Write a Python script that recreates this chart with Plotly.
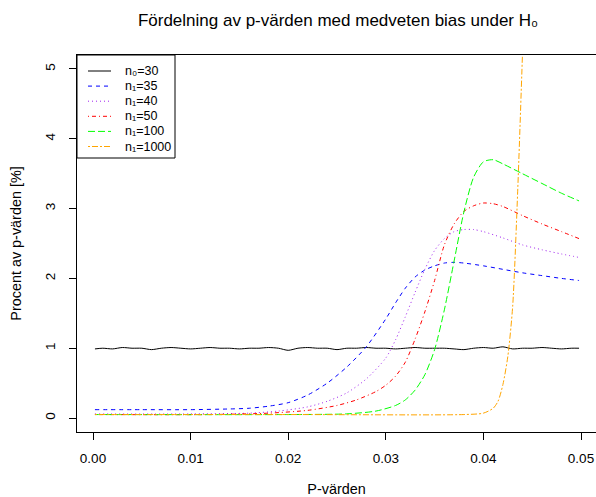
import plotly.graph_objects as go

# ---------------- data ----------------
title_text = "Fördelning av p-värden med medveten bias under H₀"
x_title = "P-värden"
y_title = "Procent av p-värden [%]"

x_ticks = [0.00, 0.01, 0.02, 0.03, 0.04, 0.05]
y_ticks = [0, 1, 2, 3, 4, 5]

labels = ["n₀=30", "n₁=35", "n₁=40", "n₁=50", "n₁=100", "n₁=1000"]

p_n0_30 = [0.0002, 0.001, 0.002, 0.003, 0.004, 0.005, 0.006, 0.007, 0.008, 0.009,
           0.010, 0.011, 0.012, 0.013, 0.014, 0.015, 0.016, 0.017, 0.018, 0.019,
           0.020, 0.021, 0.022, 0.023, 0.024, 0.025, 0.026, 0.027, 0.028, 0.029,
           0.030, 0.031, 0.032, 0.033, 0.034, 0.035, 0.036, 0.037, 0.038, 0.039,
           0.040, 0.041, 0.042, 0.043, 0.044, 0.045, 0.046, 0.047, 0.048, 0.049,
           0.0498]
v_n0_30 = [0.99, 1.00, 0.99, 1.01, 1.00, 1.00, 0.98, 1.00, 1.01, 1.00,
           0.99, 1.00, 1.01, 1.00, 1.00, 0.99, 1.00, 1.00, 1.01, 1.00,
           0.97, 1.00, 1.01, 1.00, 1.00, 0.98, 1.00, 1.00, 1.01, 1.00,
           1.00, 0.99, 1.00, 1.01, 1.00, 1.00, 1.00, 0.99, 0.98, 1.00,
           1.01, 1.00, 1.02, 0.99, 1.00, 1.00, 1.01, 1.00, 0.99, 1.00,
           1.00]

p_n1_35 = [0.0002, 0.005, 0.010, 0.014, 0.016, 0.018, 0.020, 0.022, 0.024, 0.026,
           0.028, 0.030, 0.031, 0.032, 0.033, 0.034, 0.035, 0.036, 0.037, 0.038,
           0.040, 0.042, 0.044, 0.046, 0.048, 0.0498]
v_n1_35 = [0.12, 0.12, 0.12, 0.13, 0.14, 0.17, 0.22, 0.33, 0.50, 0.73,
           1.02, 1.42, 1.65, 1.86, 2.02, 2.12, 2.18, 2.22, 2.23, 2.22,
           2.18, 2.13, 2.08, 2.04, 2.00, 1.97]

p_n1_40 = [0.0002, 0.010, 0.016, 0.019, 0.022, 0.024, 0.026, 0.028, 0.030, 0.031,
           0.032, 0.033, 0.034, 0.035, 0.036, 0.037, 0.038, 0.039, 0.040, 0.042,
           0.044, 0.046, 0.048, 0.0498]
v_n1_40 = [0.06, 0.06, 0.07, 0.10, 0.16, 0.24, 0.36, 0.56, 0.86, 1.12,
           1.45, 1.80, 2.13, 2.40, 2.57, 2.67, 2.70, 2.70, 2.67, 2.58,
           2.48, 2.41, 2.35, 2.30]

p_n1_50 = [0.0002, 0.012, 0.018, 0.022, 0.025, 0.027, 0.029, 0.030, 0.031, 0.032,
           0.033, 0.034, 0.035, 0.036, 0.037, 0.038, 0.039, 0.040, 0.041, 0.042,
           0.044, 0.046, 0.048, 0.0498]
v_n1_50 = [0.05, 0.05, 0.07, 0.11, 0.18, 0.26, 0.38, 0.47, 0.60, 0.80,
           1.13, 1.52, 1.97, 2.48, 2.78, 2.96, 3.04, 3.08, 3.07, 3.03,
           2.90, 2.78, 2.67, 2.57]

p_n1_100 = [0.0002, 0.020, 0.026, 0.029, 0.031, 0.032, 0.033, 0.034, 0.035, 0.036,
            0.037, 0.038, 0.039, 0.040, 0.041, 0.042, 0.044, 0.046, 0.048, 0.0498]
v_n1_100 = [0.05, 0.05, 0.06, 0.10, 0.18, 0.26, 0.40, 0.62, 0.98, 1.55,
            2.25, 2.95, 3.45, 3.67, 3.70, 3.64, 3.50, 3.36, 3.22, 3.11]

p_n1_1000 = [0.0002, 0.020, 0.038, 0.040, 0.041, 0.0415, 0.042, 0.0425, 0.043, 0.0435,
             0.044, 0.0445, 0.045]
v_n1_1000 = [0.05, 0.05, 0.05, 0.07, 0.14, 0.24, 0.48, 0.88, 1.60, 3.20,
             5.20, 7.40, 10.0]

series_x = [p_n0_30, p_n1_35, p_n1_40, p_n1_50, p_n1_100, p_n1_1000]
series_y = [v_n0_30, v_n1_35, v_n1_40, v_n1_50, v_n1_100, v_n1_1000]

# ---------------- styles ----------------
colors = ["#000000", "#0000FF", "#A020F0", "#FF0000", "#00FF00", "#FFA500"]
dashes = ["solid", "4px,4px", "1px,3px", "1px,3px,4px,3px", "7px,3px", "2px,2px,6px,2px"]
FONT = "Liberation Sans, Arial, sans-serif"

W, H = 596, 497
L, T, B = 77, 55, 65
R = 0
plot_w = W - L - R
plot_h = H - T - B

fig = go.Figure()
for xs, ys, name, c, d in zip(series_x, series_y, labels, colors, dashes):
    fig.add_trace(go.Scatter(
        x=xs, y=ys, mode="lines", name=name, showlegend=False,
        line=dict(color=c, width=1, dash=d, shape="spline", smoothing=0.7),
    ))

# x range: 0.00 at 16px from left edge, 9760 px per unit
px_per_x = 9760.0
x0 = -16.0 / px_per_x
x1 = x0 + plot_w / px_per_x

fig.update_layout(
    width=W, height=H,
    margin=dict(l=L, r=R, t=T, b=B, pad=0),
    paper_bgcolor="white", plot_bgcolor="white",
    font=dict(family=FONT, size=13.5, color="black"),
    title=dict(text=title_text, x=(338 - L) / plot_w, xref="paper", xanchor="center",
               y=1 - 20 / H, yref="container", yanchor="middle",
               font=dict(size=17, family=FONT, color="black")),
    xaxis=dict(range=[x0, x1], tickvals=x_ticks, tickformat=".2f",
               showgrid=False, zeroline=False,
               showline=True, mirror=True, linecolor="black", linewidth=1,
               ticks="outside", ticklen=7, tickcolor="black", tickwidth=1,
               ticklabelstandoff=7, tickfont=dict(size=13.5),
               title=dict(text=x_title, standoff=19, font=dict(size=14.4))),
    yaxis=dict(range=[-0.2, 5.2], tickvals=y_ticks, tickangle=-90,
               showgrid=False, zeroline=False,
               showline=True, mirror=False, linecolor="black", linewidth=1,
               ticks="outside", ticklen=7, tickcolor="black", tickwidth=1,
               ticklabelstandoff=9, tickfont=dict(size=13.5),
               title=dict(text=y_title, standoff=17, font=dict(size=14.4))),
)

# ---------------- legend (R-style box) ----------------
def px_x(p):
    return (p - L) / plot_w

def px_y(p):
    return (H - B - p) / plot_h

fig.add_shape(type="rect", xref="paper", yref="paper",
              x0=px_x(L), x1=px_x(175), y0=px_y(158), y1=px_y(T),
              line=dict(color="black", width=1), fillcolor="white", layer="above")
for i, (name, c, d) in enumerate(zip(labels, colors, dashes)):
    yy = px_y(71 + 15.1 * i)
    fig.add_shape(type="line", xref="paper", yref="paper",
                  x0=px_x(88), x1=px_x(111), y0=yy, y1=yy,
                  line=dict(color=c, width=1, dash=d), layer="above")
    fig.add_annotation(xref="paper", yref="paper", x=px_x(123), y=yy,
                       text=name, showarrow=False, xanchor="left", yanchor="middle",
                       font=dict(size=12.5, family=FONT, color="black"))

fig.write_html("out.html")
